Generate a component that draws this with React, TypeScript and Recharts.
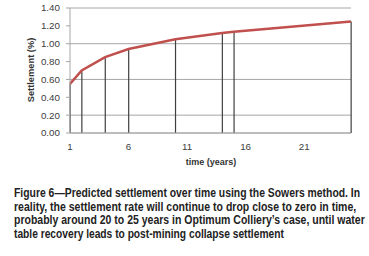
import React, { useLayoutEffect, useRef, useState } from "react";
import {
  ComposedChart,
  Line,
  Bar,
  XAxis,
  YAxis,
  CartesianGrid,
} from "recharts";

const years = [1, 2, 4, 6, 10, 14, 15, 25];
const settlement = [0.55, 0.7, 0.85, 0.94, 1.05, 1.12, 1.135, 1.25];
const xTicks = [1, 6, 11, 16, 21];
const yTicks = [0, 0.2, 0.4, 0.6, 0.8, 1.0, 1.2, 1.4];
const xTitle = "time (years)";
const yTitle = "Settlement (%)";
const captionLines = [
  "Figure 6\u2014Predicted settlement over time using the Sowers method. In",
  "reality, the settlement rate will continue to drop close to zero in time,",
  "probably around 20 to 25 years in Optimum Colliery\u2019s case, until water",
  "table recovery leads to post-mining collapse settlement",
];
const captionWidths = [346, 342, 351, 270];

const data = years.map((t, i) => ({ t, s: settlement[i] }));

const DropLine = (props: any) => {
  const { x, y, width, height } = props;
  if (x == null || y == null) return null;
  const cx = x + width / 2;
  return (
    <line x1={cx} x2={cx} y1={y} y2={y + height} stroke="#404040" strokeWidth={1.2} />
  );
};

const tickStyle = { fontSize: 9.8, fill: "#404040", fontFamily: "'Liberation Sans', Arial, sans-serif" };

function CaptionLine({ text, width, y }: { text: string; width: number; y: number }) {
  const ref = useRef<SVGTextElement>(null);
  const [sx, setSx] = useState(0.74);
  useLayoutEffect(() => {
    if (ref.current) {
      const len = ref.current.getComputedTextLength();
      if (len > 0) setSx(width / len);
    }
  }, [text, width]);
  return (
    <g transform={`translate(14 ${y}) scale(${sx} 1)`}>
      <text
        ref={ref}
        x={0}
        y={0}
        fontSize={12.5}
        fontWeight="bold"
        fill="#222"
        fontFamily="'Liberation Sans', Arial, sans-serif"
      >
        {text}
      </text>
    </g>
  );
}

export default function App() {
  return (
    <div style={{ position: "absolute", left: 0, top: 0, width: 369, height: 256, background: "#fff" }}>
      <ComposedChart
        width={369}
        height={175}
        data={data}
        margin={{ top: 8, right: 18, left: 0, bottom: 0 }}
      >
        <CartesianGrid vertical={false} stroke="#A6A6A6" strokeWidth={1} />
        <XAxis
          dataKey="t"
          type="number"
          domain={[1, 25]}
          ticks={xTicks}
          tickLine={false}
          axisLine={{ stroke: "#A6A6A6" }}
          tick={tickStyle}
          tickMargin={4}
          height={42}
          label={{
            content: () => (
              <text
                x={211}
                y={165}
                textAnchor="middle"
                fontSize={9}
                fontWeight="bold"
                fill="#333"
                fontFamily="'Liberation Sans', Arial, sans-serif"
              >
                {xTitle}
              </text>
            ),
          }}
        />
        <YAxis
          type="number"
          domain={[0, 1.4]}
          ticks={yTicks}
          tickFormatter={(v: number) => v.toFixed(2)}
          tickLine={{ stroke: "#A6A6A6" }}
          tickSize={4}
          axisLine={{ stroke: "#A6A6A6" }}
          tick={tickStyle}
          tickMargin={6}
          width={70}
          label={{
            content: () => (
              <text
                x={34}
                y={70}
                transform="rotate(-90 34 70)"
                textAnchor="middle"
                fontSize={9.3}
                fontWeight="bold"
                fill="#333"
                fontFamily="'Liberation Sans', Arial, sans-serif"
              >
                {yTitle}
              </text>
            ),
          }}
        />
        <Bar dataKey="s" barSize={2} shape={DropLine} isAnimationActive={false} />
        <Line
          dataKey="s"
          type="linear"
          stroke="#C0504D"
          strokeWidth={2.5}
          dot={false}
          isAnimationActive={false}
        />
      </ComposedChart>
      <svg width={369} height={81} style={{ position: "absolute", left: 0, top: 175 }}>
        {captionLines.map((line, i) => (
          <CaptionLine key={i} text={line} width={captionWidths[i]} y={22 + i * 13.5} />
        ))}
      </svg>
    </div>
  );
}
